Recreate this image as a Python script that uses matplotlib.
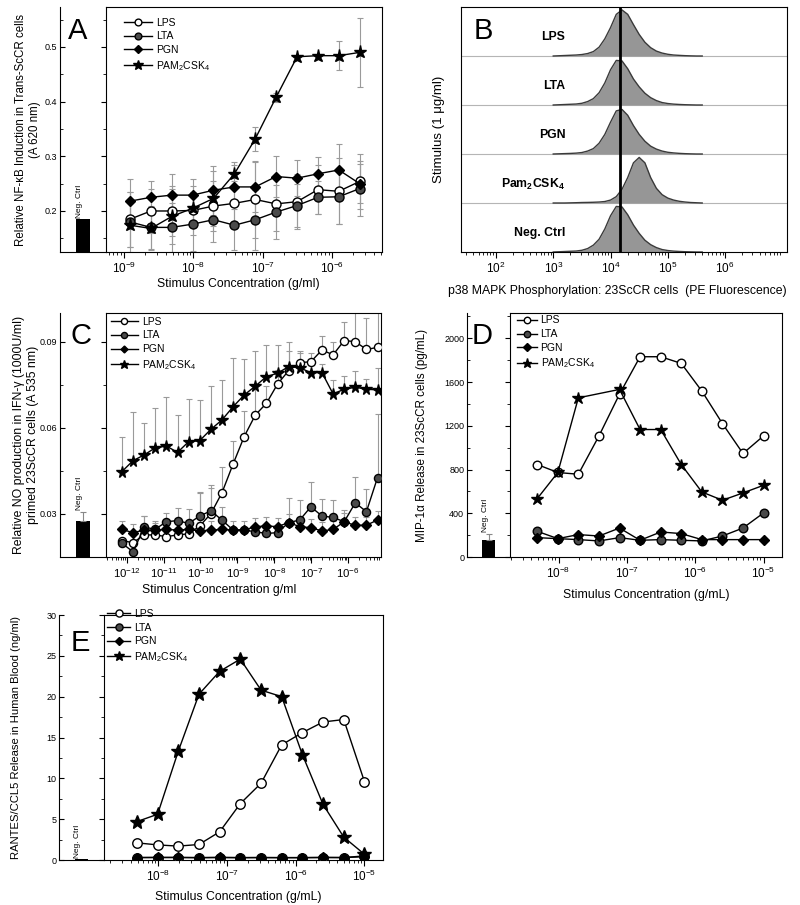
import numpy as np
import matplotlib.pyplot as plt
from matplotlib.ticker import MultipleLocator, LogLocator, NullFormatter, FixedLocator

plt.rcParams['font.family'] = ['Liberation Sans', 'DejaVu Sans']
plt.rcParams['mathtext.fontset'] = 'custom'
plt.rcParams['mathtext.rm'] = 'Liberation Sans'
plt.rcParams['mathtext.it'] = 'Liberation Sans:italic'
plt.rcParams['mathtext.bf'] = 'Liberation Sans:bold'

# ---------------- data ----------------
labels = ['LPS', 'LTA', 'PGN', r'PAM$_\mathregular{2}$CSK$_\mathregular{4}$']

# A: NF-kB induction
conc_a = [1.22e-9, 2.44e-9, 4.88e-9, 9.77e-9, 1.95e-8, 3.91e-8, 7.81e-8,
          1.56e-7, 3.13e-7, 6.25e-7, 1.25e-6, 2.5e-6]
a_lps = [0.185, 0.200, 0.200, 0.201, 0.209, 0.214, 0.221, 0.213, 0.217, 0.239, 0.236, 0.254]
a_lta = [0.180, 0.170, 0.170, 0.176, 0.184, 0.174, 0.184, 0.198, 0.210, 0.225, 0.226, 0.241]
a_pgn = [0.218, 0.225, 0.229, 0.229, 0.238, 0.244, 0.244, 0.263, 0.260, 0.268, 0.275, 0.250]
a_pam = [0.174, 0.168, 0.190, 0.205, 0.223, 0.268, 0.332, 0.408, 0.482, 0.484, 0.484, 0.490]
a_lps_err = [0.050, 0.040, 0.045, 0.045, 0.045, 0.040, 0.070, 0.050, 0.050, 0.045, 0.060, 0.050]
a_lta_err = [0.055, 0.040, 0.045, 0.050, 0.040, 0.045, 0.055, 0.050, 0.040, 0.030, 0.050, 0.050]
a_pgn_err = [0.040, 0.030, 0.038, 0.030, 0.045, 0.040, 0.045, 0.038, 0.033, 0.030, 0.047, 0.035]
a_pam_err = [0.040, 0.040, 0.050, 0.030, 0.050, 0.022, 0.022, 0.008, 0.003, 0.003, 0.027, 0.063]
a_neg = 0.185

# B: p38 MAPK histograms (log10 fluorescence grid, relative counts)
b_names = ['LPS', 'LTA', 'PGN', r'Pam$_\mathbf{2}$CSK$_\mathbf{4}$', 'Neg. Ctrl']
b_logx = [3.0, 3.1, 3.2, 3.3, 3.4, 3.5, 3.6, 3.7, 3.8, 3.9, 4.0, 4.1, 4.2, 4.3,
          4.4, 4.5, 4.6, 4.7, 4.8, 4.9, 5.0, 5.1, 5.2, 5.3, 5.4, 5.5, 5.6]
b_lps = [0, 0.005, 0.01, 0.015, 0.02, 0.03, 0.05, 0.09, 0.18, 0.35, 0.58, 0.85, 0.94, 0.85,
         0.64, 0.44, 0.28, 0.17, 0.10, 0.06, 0.035, 0.02, 0.013, 0.007, 0.003, 0, 0]
b_lta = [0, 0.005, 0.01, 0.015, 0.02, 0.035, 0.07, 0.13, 0.25, 0.45, 0.72, 0.91, 0.90, 0.74,
         0.53, 0.37, 0.24, 0.15, 0.09, 0.05, 0.03, 0.018, 0.011, 0.006, 0.003, 0, 0]
b_pgn = [0, 0.004, 0.008, 0.012, 0.018, 0.03, 0.06, 0.11, 0.22, 0.40, 0.65, 0.88, 0.91, 0.79,
         0.58, 0.40, 0.26, 0.16, 0.10, 0.06, 0.035, 0.022, 0.013, 0.007, 0.003, 0, 0]
b_pam = [0, 0, 0, 0.003, 0.006, 0.01, 0.012, 0.015, 0.02, 0.03, 0.06, 0.13, 0.28, 0.52,
         0.82, 0.93, 0.82, 0.52, 0.30, 0.17, 0.10, 0.06, 0.035, 0.02, 0.01, 0.005, 0]
b_neg = [0, 0.005, 0.01, 0.015, 0.02, 0.035, 0.07, 0.14, 0.26, 0.47, 0.74, 0.93, 0.92, 0.76,
         0.55, 0.38, 0.24, 0.15, 0.09, 0.05, 0.03, 0.018, 0.011, 0.006, 0.003, 0, 0]
b_marker = 1.435e4

# C: NO production
conc_c = [7.45e-13, 1.49e-12, 2.98e-12, 5.96e-12, 1.192e-11, 2.384e-11, 4.768e-11, 9.537e-11,
          1.907e-10, 3.815e-10, 7.629e-10, 1.526e-9, 3.052e-9, 6.104e-9, 1.221e-8, 2.441e-8,
          4.883e-8, 9.766e-8, 1.953e-7, 3.906e-7, 7.813e-7, 1.5625e-6, 3.125e-6, 6.25e-6]
c_lps = [0.0206, 0.0199, 0.0226, 0.0226, 0.0220, 0.0226, 0.0230, 0.0257, 0.0300, 0.0373, 0.0473, 0.0569,
         0.0644, 0.0685, 0.0752, 0.0799, 0.0827, 0.0830, 0.0871, 0.0854, 0.0904, 0.0900, 0.0873, 0.0880]
c_lta = [0.0197, 0.0167, 0.0253, 0.0246, 0.0272, 0.0276, 0.0266, 0.0292, 0.0310, 0.0278, 0.0243, 0.0243,
         0.0237, 0.0231, 0.0234, 0.0269, 0.0278, 0.0324, 0.0292, 0.0287, 0.0272, 0.0338, 0.0307, 0.0426]
c_pgn = [0.0245, 0.0234, 0.0243, 0.0243, 0.0245, 0.0243, 0.0245, 0.0240, 0.0243, 0.0245, 0.0243, 0.0243,
         0.0255, 0.0257, 0.0255, 0.0269, 0.0255, 0.0251, 0.0240, 0.0245, 0.0272, 0.0259, 0.0260, 0.0278]
c_pam = [0.0447, 0.0485, 0.0505, 0.0530, 0.0536, 0.0514, 0.0551, 0.0555, 0.0594, 0.0627, 0.0673, 0.0714,
         0.0745, 0.0778, 0.0790, 0.0813, 0.0809, 0.0792, 0.0792, 0.0718, 0.0734, 0.0741, 0.0734, 0.0732]
c_lps_err = [0.001, 0.001, 0.002, 0.001, 0.001, 0.001, 0.001, 0.012, 0.009, 0.009, 0.008, 0.009,
             0.010, 0.006, 0.005, 0.007, 0.004, 0.003, 0.005, 0.0046, 0.0064, 0.012, 0.011, 0.014]
c_lta_err = [0.001, 0.001, 0.004, 0.002, 0.003, 0.0043, 0.005, 0.008, 0.009, 0.0046, 0.001, 0.001,
             0.001, 0.001, 0.001, 0.0085, 0.007, 0.0085, 0.006, 0.006, 0.004, 0.009, 0.008, 0.022]
c_pgn_err = [0.003, 0.003, 0.005, 0.003, 0.003, 0.003, 0.003, 0.003, 0.003, 0.003, 0.003, 0.003,
             0.003, 0.003, 0.003, 0.003, 0.003, 0.003, 0.003, 0.003, 0.003, 0.003, 0.003, 0.003]
c_pam_err = [0.012, 0.017, 0.011, 0.014, 0.017, 0.013, 0.015, 0.014, 0.015, 0.014, 0.017, 0.0125,
             0.0123, 0.011, 0.010, 0.0085, 0.005, 0.004, 0.003, 0.005, 0.0045, 0.0055, 0.0035, 0.0075]
c_neg, c_neg_err = 0.0274, 0.0033

# D: MIP-1a release
conc_d = [4.88e-9, 9.77e-9, 1.95e-8, 3.91e-8, 7.81e-8, 1.56e-7, 3.13e-7,
          6.25e-7, 1.25e-6, 2.5e-6, 5e-6, 1e-5]
conc_d_pam = [4.88e-9, 9.77e-9, 1.95e-8, 7.81e-8, 1.56e-7, 3.13e-7,
              6.25e-7, 1.25e-6, 2.5e-6, 5e-6, 1e-5]
d_lps = [846, 773, 757, 1108, 1490, 1832, 1832, 1771, 1518, 1221, 947, 1108]
d_lta = [235, 168, 159, 147, 177, 153, 159, 153, 147, 192, 265, 403]
d_pgn = [177, 168, 205, 192, 265, 153, 229, 214, 159, 159, 159, 159]
d_pam = [534, 773, 1456, 1533, 1166, 1166, 846, 595, 519, 586, 656]
d_neg, d_neg_err = 159, 55

# E: RANTES/CCL5 release
conc_e = conc_d
e_lps = [2.1, 1.85, 1.7, 1.9, 3.45, 6.9, 9.4, 14.1, 15.6, 16.9, 17.2, 9.6]
e_lta = [0.30, 0.30, 0.30, 0.28, 0.30, 0.28, 0.30, 0.28, 0.28, 0.30, 0.30, 0.50]
e_pgn = [0.30, 0.32, 0.32, 0.30, 0.32, 0.30, 0.30, 0.30, 0.30, 0.32, 0.30, 0.40]
e_pam = [4.7, 5.6, 13.3, 20.3, 23.1, 24.6, 20.8, 20.0, 12.9, 6.8, 2.8, 0.7]
e_neg = 0.12

# ---------------- figure ----------------
W, H = 800, 905
fig = plt.figure(figsize=(W / 100, H / 100), dpi=100)


def rect(x0, x1, ytop, ybot):
    return [x0 / W, 1 - ybot / H, (x1 - x0) / W, (ybot - ytop) / H]


def styles(s):
    return [dict(marker='o', mfc='white', mec='k', ms=6.5 * s),
            dict(marker='o', mfc='#4a4a4a', mec='k', ms=6.5 * s),
            dict(marker='D', mfc='k', mec='k', ms=5.2 * s),
            dict(marker='*', mfc='k', mec='k', ms=9.5 * s)]


def panel(xl, xm, xr, ytop, ybot, ylim, xlim, ymaj, neg, neg_err, ylabel, ylx, ylsize):
    axn = fig.add_axes(rect(xl, xm, ytop, ybot))
    ax = fig.add_axes(rect(xm, xr, ytop, ybot))
    axn.set_xlim(0, 1)
    axn.set_ylim(*ylim)
    axn.bar(0.5, neg, width=0.3, color='k', zorder=2)
    top = neg
    if neg_err:
        axn.errorbar(0.5, neg, yerr=[[0], [neg_err]], fmt='none', ecolor='#888888',
                     elinewidth=0.8, capsize=2.5, capthick=0.8)
        top = neg + neg_err
    axn.text(0.42, top + (ylim[1] - ylim[0]) * 0.005, 'Neg. Ctrl', rotation=90,
             ha='center', va='bottom', fontsize=6)
    axn.spines['top'].set_visible(False)
    axn.spines['right'].set_visible(False)
    axn.set_xticks([])
    for a in (axn, ax):
        a.yaxis.set_major_locator(MultipleLocator(ymaj))
        a.yaxis.set_minor_locator(MultipleLocator(ymaj / 2))
    axn.tick_params(axis='y', which='both', direction='in', labelsize=6.5, pad=2)
    axn.tick_params(axis='y', which='major', length=3.5)
    axn.tick_params(axis='y', which='minor', length=2)
    axn.set_ylabel(ylabel, fontsize=ylsize)
    axn.yaxis.set_label_coords(ylx, 0.5)

    ax.set_xscale('log')
    ax.set_xlim(*xlim)
    ax.set_ylim(*ylim)
    ax.xaxis.set_major_locator(LogLocator(base=10, numticks=30))
    ax.xaxis.set_minor_locator(LogLocator(base=10, subs=np.arange(2, 10), numticks=100))
    ax.xaxis.set_minor_formatter(NullFormatter())
    ax.tick_params(axis='y', which='both', direction='out', labelleft=False)
    ax.tick_params(axis='y', which='major', length=3.5)
    ax.tick_params(axis='y', which='minor', length=2)
    ax.tick_params(axis='x', which='both', direction='out', labelsize=8.5, pad=2.5)
    ax.tick_params(axis='x', which='major', length=4)
    ax.tick_params(axis='x', which='minor', length=2.5)
    return axn, ax


def legend(ax, x, y, hl):
    ax.legend(loc='upper left', bbox_to_anchor=(x, y), frameon=False, fontsize=7.5,
              handlelength=hl, handletextpad=0.35, labelspacing=0.36, markerscale=0.75,
              borderaxespad=0, borderpad=0)


# ---- Panel A ----
axn, ax = panel(60, 106, 382, 7, 252, (0.125, 0.573), (10 ** -9.26, 10 ** -5.28), 0.1,
                a_neg, 0, 'Relative NF-\u03baB Induction in Trans-ScCR cells\n(A 620 nm)', -0.42, 8.3)
for y, e in zip([a_lps, a_lta, a_pgn, a_pam], [a_lps_err, a_lta_err, a_pgn_err, a_pam_err]):
    ax.errorbar(conc_a, y, yerr=e, fmt='none', ecolor='#9a9a9a', elinewidth=0.8,
                capsize=2.5, capthick=0.8, zorder=1)
for y, lab, st in zip([a_lps, a_lta, a_pgn, a_pam], labels, styles(1.0)):
    ax.plot(conc_a, y, color='k', lw=1.0, label=lab, zorder=3, **st)
legend(ax, 0.065, 0.957, 2.7)
ax.set_xlabel('Stimulus Concentration (g/ml)', fontsize=8.8)
ax.xaxis.set_label_coords(0.48, -0.105)
fig.text(68 / W, 1 - 39 / H, 'A', fontsize=21)

# ---- Panel B ----
axb = fig.add_axes(rect(461, 787, 7, 252))
axb.set_xscale('log')
axb.set_xlim(10 ** 1.39, 10 ** 7.08)
axb.set_ylim(0, 5)
xb = [10 ** v for v in b_logx]
for i, (name, h) in enumerate(zip(b_names, [b_lps, b_lta, b_pgn, b_pam, b_neg])):
    base = 4 - i
    top = [base + v for v in h]
    axb.fill_between(xb, base, top, color='#969696', lw=0, zorder=2)
    axb.plot(xb, top, color='#3a3a3a', lw=1.0, zorder=3)
    if base > 0:
        axb.axhline(base, color='#b5b5b5', lw=0.8, zorder=1)
    axb.text(10 ** 3.21, base + 0.38, name, ha='right', va='center', fontsize=8.8,
             fontweight='bold')
axb.axvline(b_marker, color='k', lw=2, zorder=4)
axb.set_yticks([])
axb.xaxis.set_major_locator(FixedLocator([1e2, 1e3, 1e4, 1e5, 1e6]))
axb.xaxis.set_minor_locator(LogLocator(base=10, subs=np.arange(2, 10), numticks=100))
axb.xaxis.set_minor_formatter(NullFormatter())
axb.tick_params(axis='x', which='both', direction='out', labelsize=8.5, pad=2.5)
axb.tick_params(axis='x', which='major', length=4)
axb.tick_params(axis='x', which='minor', length=2.5)
axb.set_ylabel('Stimulus (1 \u03bcg/ml)', fontsize=9.5)
axb.yaxis.set_label_coords(-0.05, 0.5)
axb.set_xlabel('p38 MAPK Phosphorylation: 23ScCR cells  (PE Fluorescence)', fontsize=8.8)
axb.xaxis.set_label_coords(0.48, -0.135)
fig.text(474 / W, 1 - 39 / H, 'B', fontsize=21)

# ---- Panel C ----
axn, ax = panel(60, 106, 381, 313, 557, (0.0149, 0.100), (10 ** -12.56, 10 ** -5.11), 0.03,
                c_neg, c_neg_err,
                'Relative NO production in IFN-\u03b3 (1000U/ml)\nprimed 23ScCR cells (A 535 nm)',
                -0.46, 8.8)
for y, e in zip([c_lps, c_lta, c_pgn, c_pam], [c_lps_err, c_lta_err, c_pgn_err, c_pam_err]):
    ax.errorbar(conc_c, y, yerr=[[0] * len(e), e], fmt='none', ecolor='#9a9a9a',
                elinewidth=0.8, capsize=2.2, capthick=0.8, zorder=1)
for y, lab, st in zip([c_lps, c_lta, c_pgn, c_pam], labels, styles(0.9)):
    ax.plot(conc_c, y, color='k', lw=1.0, label=lab, zorder=3, **st)
legend(ax, 0.018, 0.985, 2.6)
ax.tick_params(axis='x', labelsize=8.2)
ax.set_xlabel('Stimulus Concentration g/ml', fontsize=8.8)
ax.xaxis.set_label_coords(0.41, -0.11)
fig.text(71 / W, 1 - 344 / H, 'C', fontsize=21)

# ---- Panel D ----
axn, ax = panel(467, 510, 782, 313, 557, (0, 2232), (10 ** -8.71, 10 ** -4.73), 400,
                d_neg, d_neg_err, 'MIP-1\u03b1 Release in 23ScCR cells (pg/mL)', -0.9, 8.4)
ax.plot(conc_d, d_lps, color='k', lw=1.0, label=labels[0], zorder=3, **styles(0.95)[0])
ax.plot(conc_d, d_lta, color='k', lw=1.0, label=labels[1], zorder=3, **styles(0.95)[1])
ax.plot(conc_d, d_pgn, color='k', lw=1.0, label=labels[2], zorder=3, **styles(0.95)[2])
ax.plot(conc_d_pam, d_pam, color='k', lw=1.0, label=labels[3], zorder=3, **styles(0.95)[3])
legend(ax, 0.026, 0.99, 1.9)
ax.set_xlabel('Stimulus Concentration (g/mL)', fontsize=8.8)
ax.xaxis.set_label_coords(0.5, -0.13)
fig.text(472 / W, 1 - 344 / H, 'D', fontsize=21)

# ---- Panel E ----
axn, ax = panel(59, 104, 383, 615, 860, (0, 30), (10 ** -8.79, 10 ** -4.73), 5,
                e_neg, 0, 'RANTES/CCL5 Release in Human Blood (ng/ml)', -0.85, 8.1)
for y, lab, st in zip([e_lps, e_lta, e_pgn, e_pam], labels, styles(1.05)):
    ax.plot(conc_e, y, color='k', lw=1.0, label=lab, zorder=3, **st)
legend(ax, 0.011, 1.025, 2.2)
ax.set_xlabel('Stimulus Concentration (g/mL)', fontsize=8.8)
ax.xaxis.set_label_coords(0.48, -0.125)
fig.text(71 / W, 1 - 651 / H, 'E', fontsize=21)

fig.savefig('out.png', dpi=100)
